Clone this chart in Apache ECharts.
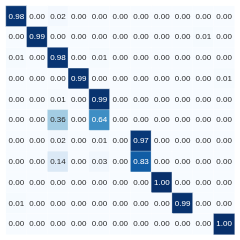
<!DOCTYPE html>
<html><head><meta charset="utf-8">
<script src="https://cdn.jsdelivr.net/npm/echarts@6/dist/echarts.min.js"></script>
<style>html,body{margin:0;padding:0;background:#fff}#c{width:240px;height:240px}</style>
</head><body><div id="c"></div>
<script>
const classes = ['0','1','2','3','4','5','6','7','8','9','10'];
const matrix = [
  [0.98,0.00,0.02,0.00,0.00,0.00,0.00,0.00,0.00,0.00,0.00],
  [0.00,0.99,0.00,0.00,0.00,0.00,0.00,0.00,0.00,0.01,0.00],
  [0.01,0.00,0.98,0.00,0.01,0.00,0.00,0.00,0.00,0.00,0.00],
  [0.00,0.00,0.00,0.99,0.00,0.00,0.00,0.00,0.00,0.00,0.01],
  [0.00,0.00,0.01,0.00,0.99,0.00,0.00,0.00,0.00,0.00,0.00],
  [0.00,0.00,0.36,0.00,0.64,0.00,0.00,0.00,0.00,0.00,0.00],
  [0.00,0.00,0.02,0.00,0.01,0.00,0.97,0.00,0.00,0.00,0.00],
  [0.00,0.00,0.14,0.00,0.03,0.00,0.83,0.00,0.00,0.00,0.00],
  [0.00,0.00,0.00,0.00,0.00,0.00,0.00,1.00,0.00,0.00,0.00],
  [0.01,0.00,0.00,0.00,0.00,0.00,0.00,0.00,0.99,0.00,0.00],
  [0.00,0.00,0.00,0.00,0.00,0.00,0.00,0.00,0.00,0.00,1.00]
];
const blues = ['#f7fbff','#deebf7','#c6dbef','#9ecae1','#6baed6','#4292c6','#2171b5','#08519c','#08306b'];
const data = [];
matrix.forEach((row, r) => row.forEach((v, c) => {
  data.push({value: [c, r, v], label: {color: v > 0.5 ? '#ffffff' : '#262626'}});
}));
const chart = echarts.init(document.getElementById('c'), null, {renderer: 'canvas'});
chart.setOption({
  animation: false,
  grid: {left: 6, top: 6, width: 228.5, height: 228.5, containLabel: false},
  xAxis: {type: 'category', data: classes, show: false},
  yAxis: {type: 'category', data: classes, inverse: true, show: false},
  visualMap: {show: false, min: 0, max: 1, dimension: 2, inRange: {color: blues}},
  series: [{
    type: 'heatmap',
    data: data,
    itemStyle: {borderColor: 'rgba(255,255,255,0.6)', borderWidth: 0.5},
    label: {show: true, fontFamily: 'Liberation Sans, Arial, sans-serif', fontSize: 8,
      formatter: p => p.value[2].toFixed(2)},
    emphasis: {disabled: true}
  }]
});
</script></body></html>
